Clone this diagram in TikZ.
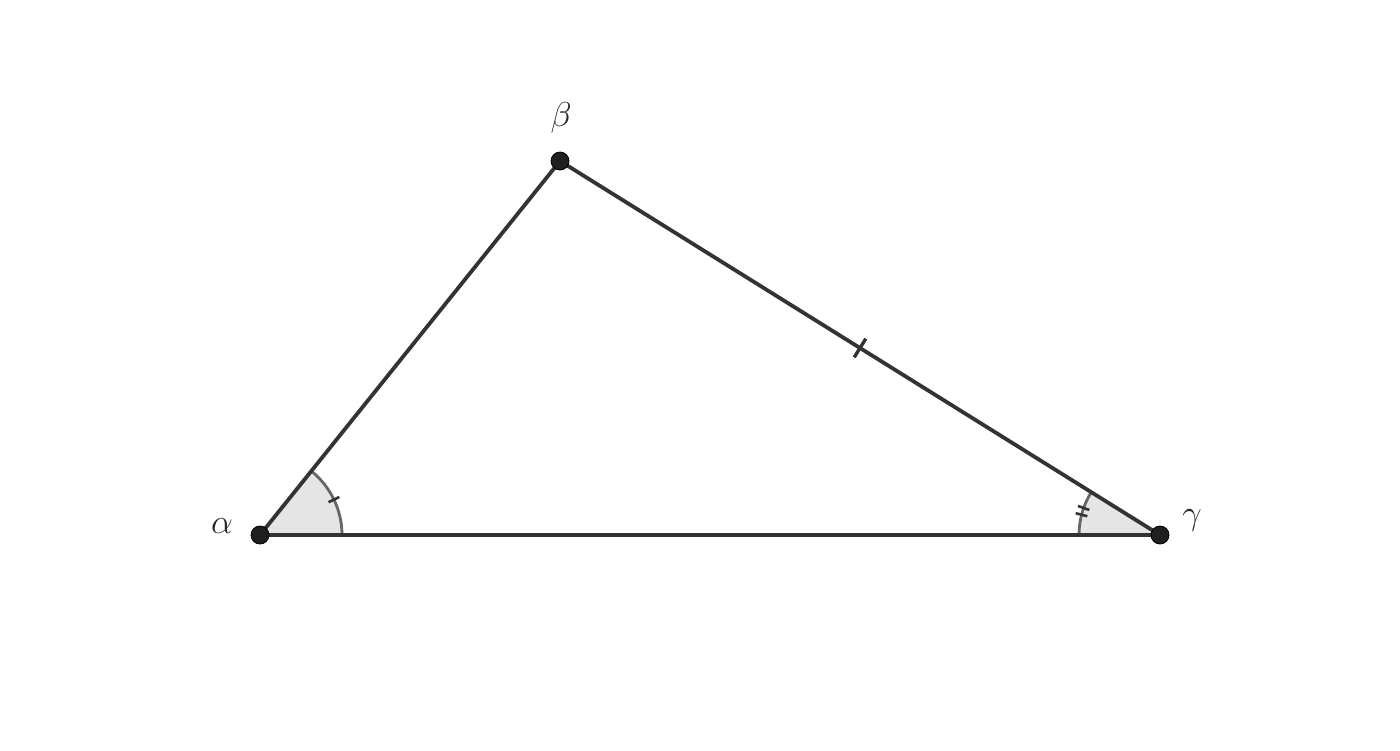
\documentclass[tikz,border=0pt]{standalone}
\usetikzlibrary{calc}
\begin{document}
\begin{tikzpicture}[x=0.5pt,y=-0.5pt,
  edge/.style={draw=black!80, line width=1.9pt},
  anglefill/.style={fill=black!10, draw=none},
  anglearc/.style={draw=black!60, line width=1.4pt},
  tick/.style={draw=black!80, line width=1.3pt},
  pt/.style={circle, fill=black!88, draw=black, line width=0.4pt, inner sep=0pt, minimum size=9pt},
  lbl/.style={font=\fontsize{17}{20}\selectfont, text=black!85}]
\useasboundingbox (0,0) rectangle (1400,750);
\coordinate (A) at (260,535);
\coordinate (B) at (560,161);
\coordinate (C) at (1160,535);
% angle at A
\fill[anglefill] (A) -- ++(82,0) arc[start angle=0, end angle=-51.26, radius=82] -- cycle;
\draw[anglearc] ($(A)+(82,0)$) arc[start angle=0, end angle=-51.26, radius=82];
\draw[tick] ($(A)+(-25.6:76)$) -- ($(A)+(-25.6:88)$);
% angle at C
\fill[anglefill] (C) -- ++(-81,0) arc[start angle=180, end angle=211.94, radius=81] -- cycle;
\draw[anglearc] ($(C)+(-81,0)$) arc[start angle=180, end angle=211.94, radius=81];
\draw[tick] ($(C)+(194.5:75)$) -- ($(C)+(194.5:87)$);
\draw[tick] ($(C)+(199.5:75)$) -- ($(C)+(199.5:87)$);
% edges
\draw[edge] (A) -- (B);
\draw[edge] (B) -- (C);
\draw[edge] (A) -- (C);
% tick on BC
\coordinate (M) at ($(B)!0.5!(C)$);
\draw[tick, line width=1.7pt] ($(M)!5.5pt!90:(C)$) -- ($(M)!5.5pt!-90:(C)$);
% points
\node[pt] (pA) at (A) {};
\node[pt] (pB) at (B) {};
\node[pt] (pC) at (C) {};
\node[lbl] (lA) at (222,526) {$\alpha$};
\node[lbl] (lB) at (561,118) {$\beta$};
\node[lbl] (lC) at (1192,520) {$\gamma$};
\end{tikzpicture}
\end{document}
